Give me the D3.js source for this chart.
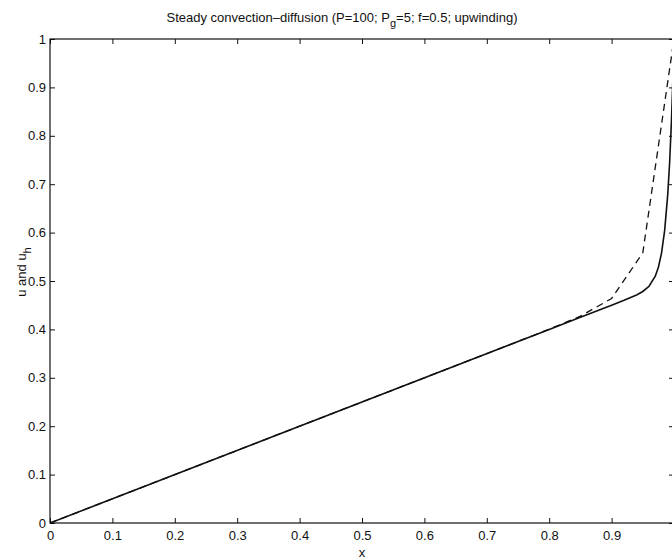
<!DOCTYPE html>
<html><head><meta charset="utf-8">
<script src="https://cdn.jsdelivr.net/npm/d3@7"></script>
<style>body{margin:0;background:#fff}svg{display:block}</style>
</head><body>
<svg id="c" width="672" height="560"></svg>
<script>
// exact solution u(x)
const xExact = [0, 0.8, 0.85, 0.9, 0.92, 0.94, 0.95, 0.96, 0.97, 0.975, 0.98, 0.985, 0.99, 0.993, 0.996, 0.998, 1.0];
const uExact = [0, 0.4, 0.425, 0.45002, 0.46017, 0.47124, 0.47837, 0.48916, 0.50989, 0.52854, 0.55767, 0.60407, 0.67894, 0.74479, 0.83316, 0.90837, 1.0];
// discrete (upwind) solution u_h at nodes
const xNodes = [0, 0.05, 0.1, 0.15, 0.2, 0.25, 0.3, 0.35, 0.4, 0.45, 0.5, 0.55, 0.6, 0.65, 0.7, 0.75, 0.8, 0.85, 0.9, 0.95, 1.0];
const uNodes = [0, 0.025, 0.05, 0.075, 0.1, 0.125, 0.15, 0.175, 0.2, 0.225, 0.25, 0.275, 0.3, 0.325, 0.35, 0.3751, 0.4004, 0.4273, 0.4639, 0.5583, 1.0];
const xTicks = [0, 0.1, 0.2, 0.3, 0.4, 0.5, 0.6, 0.7, 0.8, 0.9, 1];
const xTickLabels = ["0", "0.1", "0.2", "0.3", "0.4", "0.5", "0.6", "0.7", "0.8", "0.9", ""];
const yTicks = [0, 0.1, 0.2, 0.3, 0.4, 0.5, 0.6, 0.7, 0.8, 0.9, 1];

const L = 50, R = 674, T = 39, B = 523;
const svg = d3.select("#c");
const font = "'Liberation Sans', Arial, Helvetica, sans-serif";
const x = d3.scaleLinear().domain([0, 1]).range([L, R]);
const y = d3.scaleLinear().domain([0, 1]).range([B, T]);

svg.append("clipPath").attr("id", "pc").append("rect")
  .attr("x", L).attr("y", T).attr("width", R - L).attr("height", B - T);

const line = d3.line().x(d => x(d[0])).y(d => y(d[1]));
const g = svg.append("g").attr("clip-path", "url(#pc)");
g.append("path").datum(xExact.map((v, i) => [v, uExact[i]]))
  .attr("d", line).attr("fill", "none").attr("stroke", "#111").attr("stroke-width", 1.6);
g.append("path").datum(xNodes.map((v, i) => [v, uNodes[i]]))
  .attr("d", line).attr("fill", "none").attr("stroke", "#111").attr("stroke-width", 1.3)
  .attr("stroke-dasharray", "7,5");

const tl = 5;
const axStyle = s => s.call(a => a.select(".domain").remove())
  .selectAll("text").attr("font-family", font).attr("font-size", 13).attr("fill", "#111");
svg.append("g").attr("transform", `translate(0,${B})`)
  .call(d3.axisBottom(x).tickValues(xTicks).tickFormat((d, i) => xTickLabels[i]).tickSizeInner(-tl).tickSizeOuter(0).tickPadding(8))
  .call(axStyle);
svg.append("g").attr("transform", `translate(${L},0)`)
  .call(d3.axisLeft(y).tickValues(yTicks).tickFormat(d3.format("~g")).tickSizeInner(-tl).tickSizeOuter(0).tickPadding(4))
  .call(axStyle);
svg.append("g").attr("transform", `translate(0,${T})`)
  .call(d3.axisTop(x).tickValues(xTicks).tickFormat("").tickSizeInner(-tl).tickSizeOuter(0))
  .call(a => a.select(".domain").remove());
svg.append("g").attr("transform", `translate(${R},0)`)
  .call(d3.axisRight(y).tickValues(yTicks).tickFormat("").tickSizeInner(-tl).tickSizeOuter(0))
  .call(a => a.select(".domain").remove());
svg.selectAll(".tick line").attr("stroke", "#111");
svg.append("rect").attr("x", L).attr("y", T).attr("width", R - L).attr("height", B - T)
  .attr("fill", "none").attr("stroke", "#111").attr("stroke-width", 1.2);

// title
const t = svg.append("text").attr("x", (L + R) / 2 - 20).attr("y", 22).attr("text-anchor", "middle")
  .attr("font-family", font).attr("font-size", 13).attr("fill", "#111");
t.append("tspan").text("Steady convection\u2013diffusion (P=100; P");
t.append("tspan").attr("dy", 5).attr("font-size", 11).text("g");
t.append("tspan").attr("dy", -5).text("=5; f=0.5; upwinding)");

svg.append("text").attr("x", (L + R) / 2).attr("y", 557).attr("text-anchor", "middle")
  .attr("font-family", font).attr("font-size", 13).attr("fill", "#111").text("x");
const yl = svg.append("text").attr("transform", `translate(26,272) rotate(-90)`)
  .attr("text-anchor", "middle").attr("font-family", font).attr("font-size", 13).attr("fill", "#111");
yl.append("tspan").text("u and u");
yl.append("tspan").attr("dy", 5).attr("font-size", 11).text("h");
</script>
</body></html>
